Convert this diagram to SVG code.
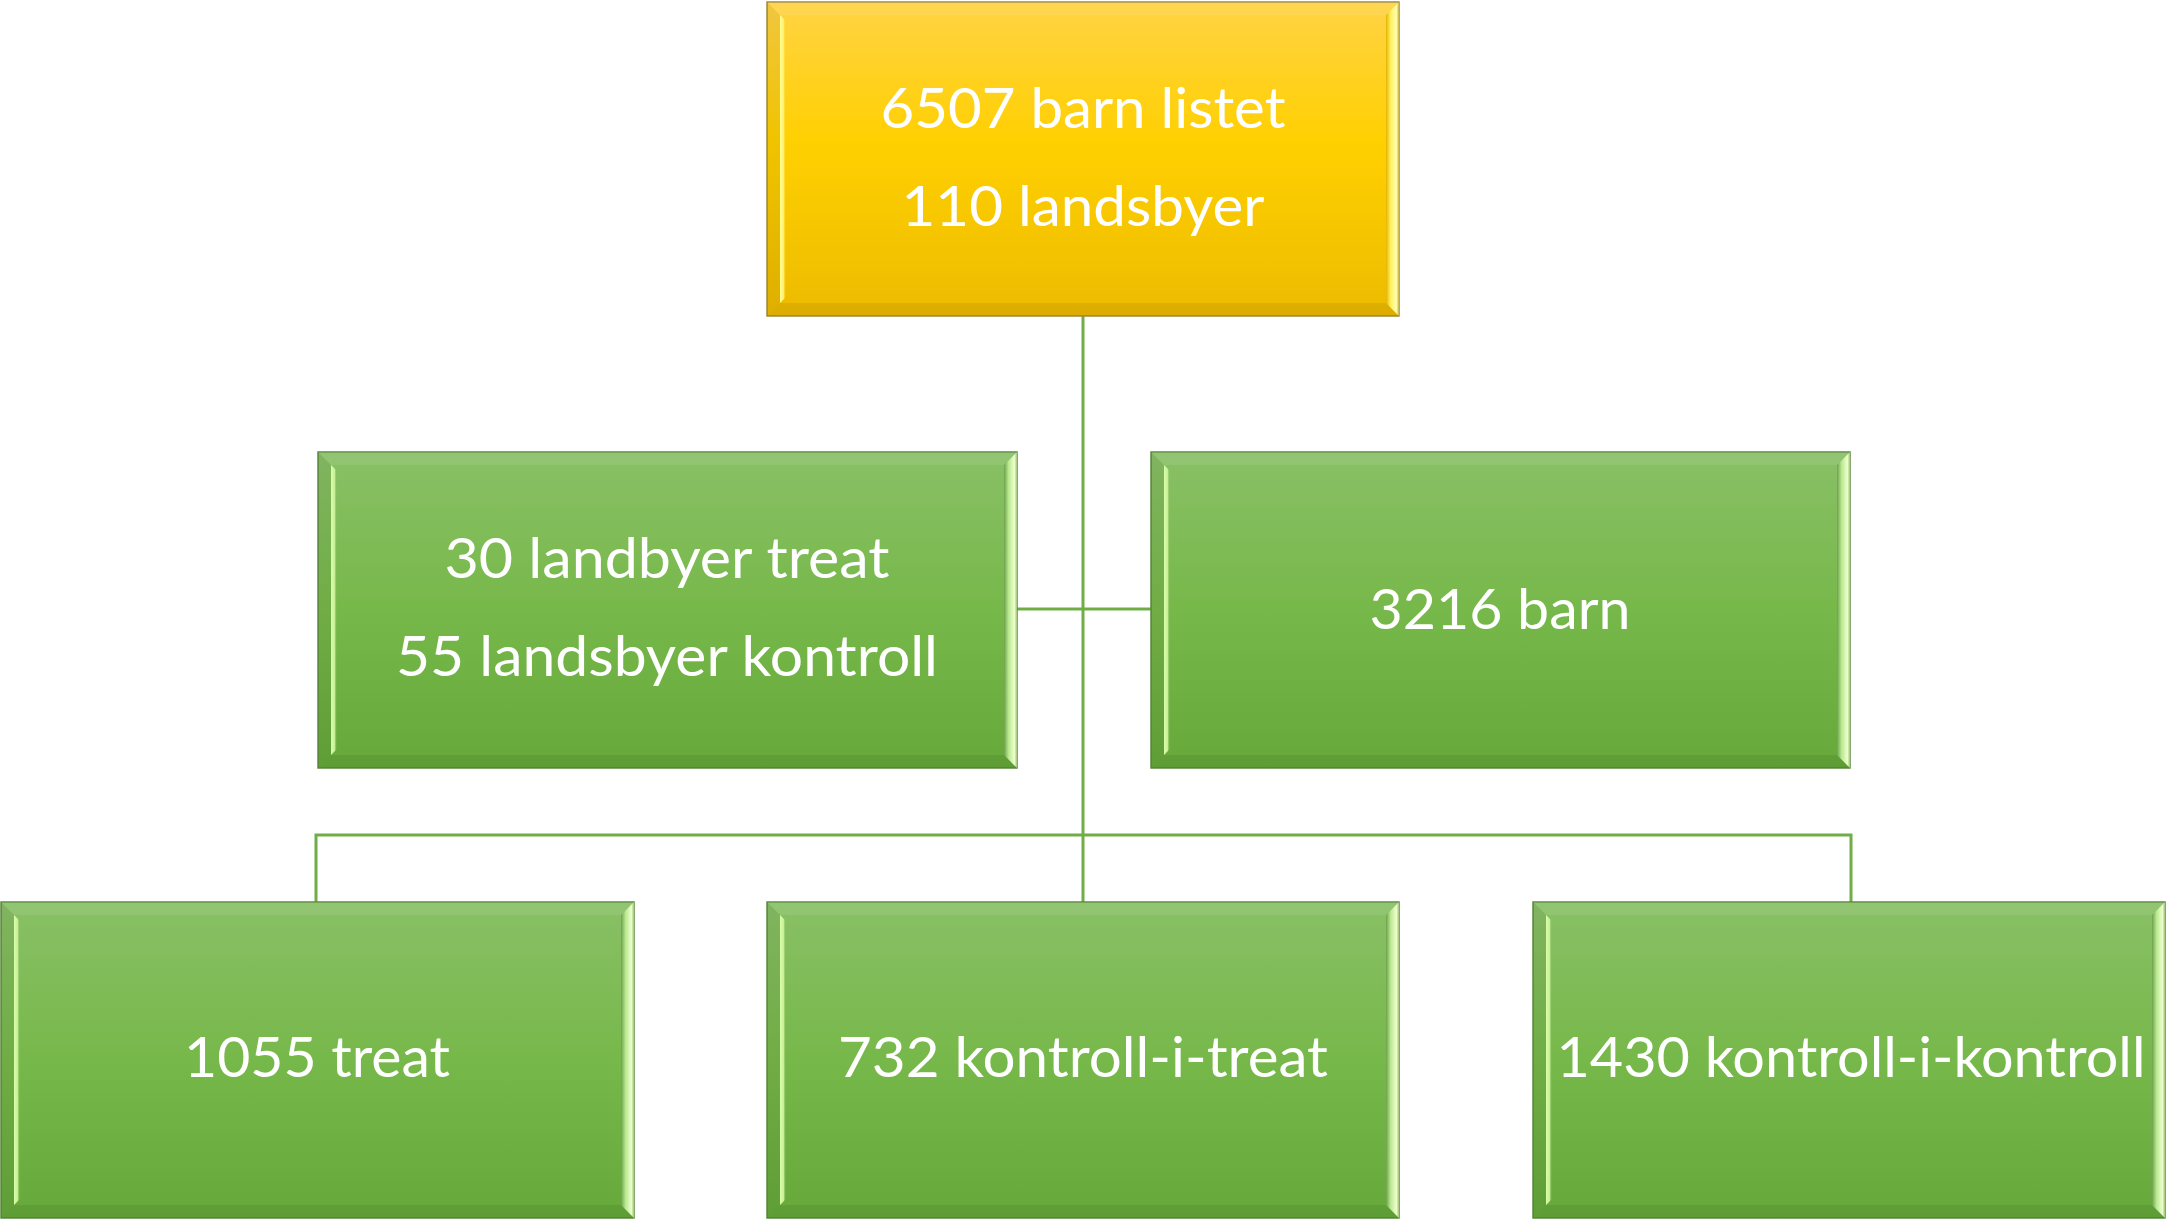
<svg xmlns="http://www.w3.org/2000/svg" width="2166" height="1220" viewBox="0 0 2166 1220">
<defs>
<linearGradient id="gGreen" x1="0" y1="0" x2="0" y2="1">
<stop offset="0" stop-color="#89C066"/><stop offset="0.5" stop-color="#77B84A"/><stop offset="1" stop-color="#66A83A"/>
</linearGradient>
<linearGradient id="gYellow" x1="0" y1="0" x2="0" y2="1">
<stop offset="0" stop-color="#FFD345"/><stop offset="0.45" stop-color="#FFD000"/><stop offset="1" stop-color="#EDBB00"/>
</linearGradient>
<linearGradient id="gRG" x1="0" y1="0" x2="1" y2="0">
<stop offset="0" stop-color="#6E9F4C"/><stop offset="0.35" stop-color="#B8E890"/><stop offset="0.8" stop-color="#EEFFCC"/><stop offset="1" stop-color="#9CC27A"/>
</linearGradient>
<linearGradient id="gRY" x1="0" y1="0" x2="1" y2="0">
<stop offset="0" stop-color="#E6B300"/><stop offset="0.35" stop-color="#FFF060"/><stop offset="0.8" stop-color="#FFFFB0"/><stop offset="1" stop-color="#C8B040"/>
</linearGradient>
<linearGradient id="gLG" x1="0" y1="0" x2="1" y2="0">
<stop offset="0" stop-color="#D9FFA8"/><stop offset="0.6" stop-color="#C8F098"/><stop offset="1" stop-color="#7DBA52" stop-opacity="0"/>
</linearGradient>
<linearGradient id="gLY" x1="0" y1="0" x2="1" y2="0">
<stop offset="0" stop-color="#FFFF90"/><stop offset="0.6" stop-color="#FFF070"/><stop offset="1" stop-color="#FFD000" stop-opacity="0"/>
</linearGradient>
</defs>
<style>
.gbox{fill:url(#gGreen);stroke:#5C8A3E;stroke-width:1.5}
.ybox{fill:url(#gYellow);stroke:#A08C3A;stroke-width:1.5}
.bt{fill:#FFFFFF;fill-opacity:0.08}
.bb{fill:#000000;fill-opacity:0.07}
.bl{fill:#000000;fill-opacity:0.06}
.rg{fill:url(#gRG)}
.ry{fill:url(#gRY)}
.lg{fill:url(#gLG)}
.ly{fill:url(#gLY)}
.lbl{font-family:"Lato","Open Sans","DejaVu Sans",sans-serif;font-size:57px;fill:#FFFFFF;text-anchor:middle}
.conn{fill:none;stroke:#70AD47;stroke-width:3}
</style>

<g id="connectors">
<path class="conn" d="M1083,316 V902"/>
<path class="conn" d="M1017,609 H1151"/>
<path class="conn" d="M316,902 V835 H1851 V902"/>
</g>

<g id="node-top">
<rect class="ybox" x="767" y="2" width="632" height="314"/>
<polygon class="bt" points="767,2 1399,2 1386,15 780,15"/>
<polygon class="bb" points="767,316 1399,316 1386,303 780,303"/>
<polygon class="bl" points="767,2 780,15 780,303 767,316"/>
<polygon class="ly" points="780,15 786,21 786,297 780,303"/>
<polygon class="ry" points="1386,15 1399,2 1399,316 1386,303"/>
<text class="lbl" x="1083" y="128" textLength="405" lengthAdjust="spacingAndGlyphs">6507 barn listet</text>
<text class="lbl" x="1083" y="226" textLength="363" lengthAdjust="spacingAndGlyphs">110 landsbyer</text>
</g>

<g id="node-landsbyer">
<rect class="gbox" x="318" y="452" width="699" height="316"/>
<polygon class="bt" points="318,452 1017,452 1004,465 331,465"/>
<polygon class="bb" points="318,768 1017,768 1004,755 331,755"/>
<polygon class="bl" points="318,452 331,465 331,755 318,768"/>
<polygon class="lg" points="331,465 337,471 337,749 331,755"/>
<polygon class="rg" points="1004,465 1017,452 1017,768 1004,755"/>
<text class="lbl" x="667" y="578" textLength="445" lengthAdjust="spacingAndGlyphs">30 landbyer treat</text>
<text class="lbl" x="667" y="676" textLength="542" lengthAdjust="spacingAndGlyphs">55 landsbyer kontroll</text>
</g>

<g id="node-barn">
<rect class="gbox" x="1151" y="452" width="699" height="316"/>
<polygon class="bt" points="1151,452 1850,452 1837,465 1164,465"/>
<polygon class="bb" points="1151,768 1850,768 1837,755 1164,755"/>
<polygon class="bl" points="1151,452 1164,465 1164,755 1151,768"/>
<polygon class="lg" points="1164,465 1170,471 1170,749 1164,755"/>
<polygon class="rg" points="1837,465 1850,452 1850,768 1837,755"/>
<text class="lbl" x="1500" y="629" textLength="261" lengthAdjust="spacingAndGlyphs">3216 barn</text>
</g>

<g id="node-treat">
<rect class="gbox" x="1" y="902" width="633" height="316"/>
<polygon class="bt" points="1,902 634,902 621,915 14,915"/>
<polygon class="bb" points="1,1218 634,1218 621,1205 14,1205"/>
<polygon class="bl" points="1,902 14,915 14,1205 1,1218"/>
<polygon class="lg" points="14,915 20,921 20,1199 14,1205"/>
<polygon class="rg" points="621,915 634,902 634,1218 621,1205"/>
<text class="lbl" x="317" y="1077" textLength="266" lengthAdjust="spacingAndGlyphs">1055 treat</text>
</g>

<g id="node-kit">
<rect class="gbox" x="767" y="902" width="632" height="316"/>
<polygon class="bt" points="767,902 1399,902 1386,915 780,915"/>
<polygon class="bb" points="767,1218 1399,1218 1386,1205 780,1205"/>
<polygon class="bl" points="767,902 780,915 780,1205 767,1218"/>
<polygon class="lg" points="780,915 786,921 786,1199 780,1205"/>
<polygon class="rg" points="1386,915 1399,902 1399,1218 1386,1205"/>
<text class="lbl" x="1083" y="1077" textLength="490" lengthAdjust="spacingAndGlyphs">732 kontroll-i-treat</text>
</g>

<g id="node-kik">
<rect class="gbox" x="1533" y="902" width="632" height="316"/>
<polygon class="bt" points="1533,902 2165,902 2152,915 1546,915"/>
<polygon class="bb" points="1533,1218 2165,1218 2152,1205 1546,1205"/>
<polygon class="bl" points="1533,902 1546,915 1546,1205 1533,1218"/>
<polygon class="lg" points="1546,915 1552,921 1552,1199 1546,1205"/>
<polygon class="rg" points="2152,915 2165,902 2165,1218 2152,1205"/>
<text class="lbl" x="1851" y="1077" textLength="589" lengthAdjust="spacingAndGlyphs">1430 kontroll-i-kontroll</text>
</g>
</svg>
